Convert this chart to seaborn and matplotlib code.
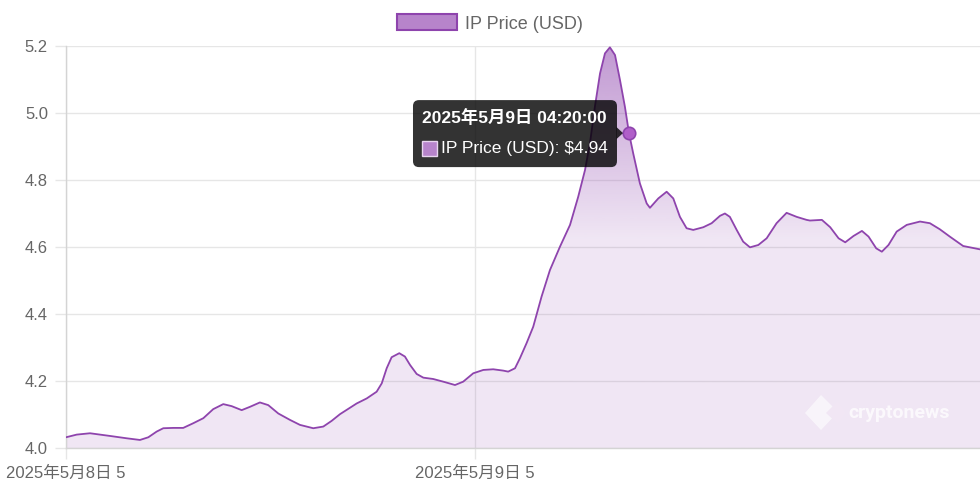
import matplotlib
matplotlib.use("Agg")
import matplotlib.pyplot as plt
import numpy as np
import pandas as pd
import seaborn as sns
from matplotlib.colors import to_rgb
from matplotlib.patches import Patch, FancyBboxPatch, Polygon
from matplotlib.transforms import IdentityTransform

# hours since the first point, and the IP price
HOURS = [0.00, 0.63, 1.41, 2.58, 3.56, 4.34, 4.83, 5.32, 5.71, 6.30,
         6.88, 7.47, 8.06, 8.64, 9.23, 9.72, 10.31, 10.80, 11.38, 11.87,
         12.46, 13.14, 13.73, 14.51, 15.10, 15.59, 16.08, 17.06, 17.65, 18.23,
         18.53, 18.82, 19.11, 19.56, 19.89, 20.19, 20.58, 20.97, 21.55, 22.14,
         22.83, 23.31, 23.90, 24.49, 25.07, 25.66, 25.95, 26.35, 26.64, 27.03,
         27.42, 27.91, 28.40, 28.99, 29.58, 30.06, 30.46, 30.75, 31.04, 31.34,
         31.63, 31.92, 32.22, 32.51, 32.80, 33.04, 33.29, 33.68, 34.08, 34.27,
         34.76, 35.25, 35.64, 36.03, 36.42, 36.81, 37.40, 37.89, 38.38, 38.67,
         38.96, 39.36, 39.74, 40.14, 40.63, 41.12, 41.70, 42.29, 42.88, 43.46,
         43.66, 44.36, 44.85, 45.34, 45.73, 46.22, 46.71, 47.10, 47.55, 47.88,
         48.27, 48.75, 49.34, 50.12, 50.70, 51.28, 51.87, 52.65, 53.64]
PRICES = [4.032, 4.040, 4.044, 4.036, 4.029, 4.024, 4.032, 4.049, 4.059, 4.060,
          4.060, 4.074, 4.089, 4.116, 4.131, 4.125, 4.113, 4.123, 4.136, 4.128,
          4.103, 4.084, 4.069, 4.059, 4.064, 4.081, 4.101, 4.133, 4.148, 4.168,
          4.193, 4.238, 4.271, 4.283, 4.273, 4.248, 4.221, 4.210, 4.206, 4.198,
          4.188, 4.198, 4.223, 4.233, 4.235, 4.231, 4.228, 4.238, 4.268, 4.313,
          4.362, 4.452, 4.531, 4.601, 4.666, 4.750, 4.830, 4.910, 5.019, 5.118,
          5.178, 5.196, 5.173, 5.099, 5.019, 4.940, 4.879, 4.790, 4.730, 4.717,
          4.745, 4.765, 4.745, 4.690, 4.656, 4.651, 4.659, 4.671, 4.693, 4.700,
          4.690, 4.651, 4.616, 4.599, 4.606, 4.626, 4.671, 4.702, 4.690, 4.681,
          4.679, 4.681, 4.659, 4.626, 4.614, 4.633, 4.648, 4.631, 4.596, 4.586,
          4.606, 4.646, 4.666, 4.676, 4.671, 4.653, 4.631, 4.603, 4.593]

TICK_HOURS = [0, 24]
TICK_LABELS = ["2025年5月8日 5", "2025年5月9日 5"]
Y_TICKS = [4.0, 4.2, 4.4, 4.6, 4.8, 5.0, 5.2]

SERIES = "IP Price (USD)"
TIP_HOUR = 33.04
TIP_PRICE = 4.94
TIP_TITLE = "2025年5月9日 04:20:00"

LINE = "#8e44ad"
LEGEND_FILL = "#b784cb"
GRID = "#e6e6e6"
TEXT = "#666666"

sns.set_theme(style="white")
plt.rcParams["font.family"] = ["Liberation Sans", "Noto Sans CJK JP"]

df = pd.DataFrame({"hour": HOURS, "price": PRICES})
xmax = df["hour"].max()
ymin, ymax = Y_TICKS[0], Y_TICKS[-1]

fig = plt.figure(figsize=(9.8, 4.9), dpi=100)
ax = fig.add_axes([66 / 980, 42 / 490, 1 - 66 / 980, 402 / 490])

# gradient fill under the line, darker near the top
yy = np.linspace(ymin, ymax, 300)
alpha = np.clip(0.13 + (yy - 4.62) / (ymax - 4.62) * 0.42, 0.13, 0.55)
grad = np.zeros((len(yy), 1, 4))
grad[..., :3] = to_rgb(LINE)
grad[..., 3] = alpha[:, None]
im = ax.imshow(grad, extent=[0, xmax, ymin, ymax], origin="lower",
               aspect="auto", interpolation="bilinear", zorder=1)
fill = ax.fill_between(df["hour"], ymin, df["price"], facecolor="none",
                       edgecolor="none")
im.set_clip_path(fill.get_paths()[0], transform=ax.transData)

sns.lineplot(data=df, x="hour", y="price", ax=ax, color=LINE, linewidth=1.3,
             zorder=3, solid_joinstyle="round")

ax.set_xlim(0, xmax)
ax.set_ylim(ymin, ymax)
ax.set_yticks(Y_TICKS)
ax.set_yticklabels([f"{v:.1f}" for v in Y_TICKS])
ax.set_xticks(TICK_HOURS)
ax.set_xticklabels(TICK_LABELS)
ax.set_xlabel("")
ax.set_ylabel("")
ax.grid(True, color=GRID, linewidth=1, zorder=0)
ax.set_axisbelow(True)
ax.tick_params(axis="both", colors=GRID, labelcolor=TEXT, labelsize=12,
               length=8, width=1, pad=5, left=True, bottom=True)
for side in ["top", "right"]:
    ax.spines[side].set_visible(False)
for side in ["left", "bottom"]:
    ax.spines[side].set_color("#d4d4d4")
    ax.spines[side].set_linewidth(1)

# legend
fig.legend(handles=[Patch(facecolor=LEGEND_FILL, edgecolor=LINE, linewidth=1.5)],
           labels=[SERIES], loc="upper center", bbox_to_anchor=(0.5, 1.004),
           frameon=False, handlelength=3.3, handleheight=1.0, fontsize=13,
           labelcolor=TEXT, handletextpad=0.45)

# watermark
wm = IdentityTransform()
fig.text(848, 77, "cryptonews", transform=wm, color="white", alpha=0.75,
         fontsize=14, fontweight="bold", family="Roboto", va="center")
fig.add_artist(Polygon([(805, 77), (821, 95), (838, 78), (821, 60)],
                       closed=True, transform=wm, facecolor="white",
                       alpha=0.6, edgecolor="none"))
fig.add_artist(Polygon([(826, 77), (838, 89), (846, 77), (838, 66)],
                       closed=True, transform=wm, facecolor="#f1e6f4",
                       edgecolor="none"))

# tooltip
px, py = ax.transData.transform((TIP_HOUR, TIP_PRICE))
box = FancyBboxPatch((px - 216, py - 34), 204, 67,
                     boxstyle="round,pad=0,rounding_size=6", transform=wm,
                     facecolor="black", alpha=0.8, edgecolor="none", zorder=5)
fig.add_artist(box)
fig.add_artist(Polygon([(px - 12.5, py + 6), (px - 6, py), (px - 12.5, py - 6)],
                       closed=True, transform=wm, facecolor="black",
                       alpha=0.8, edgecolor="none", zorder=5))
fig.text(px - 207, py + 16, TIP_TITLE, transform=wm, color="white",
         fontsize=12.5, fontweight="bold", va="center", zorder=6)
fig.add_artist(FancyBboxPatch((px - 207, py - 23), 15, 15,
                              boxstyle="square,pad=0", transform=wm,
                              facecolor=LEGEND_FILL, edgecolor="#e8d6ef",
                              linewidth=1, zorder=6))
fig.text(px - 188, py - 15, f"{SERIES}: ${TIP_PRICE:.2f}", transform=wm,
         color="white", fontsize=12.5, va="center", zorder=6)
ax.scatter([TIP_HOUR], [TIP_PRICE], s=80, facecolor="#b05fc9", edgecolor=LINE,
           linewidth=1.2, zorder=7, clip_on=False)

fig.savefig("out.png", dpi=100)
